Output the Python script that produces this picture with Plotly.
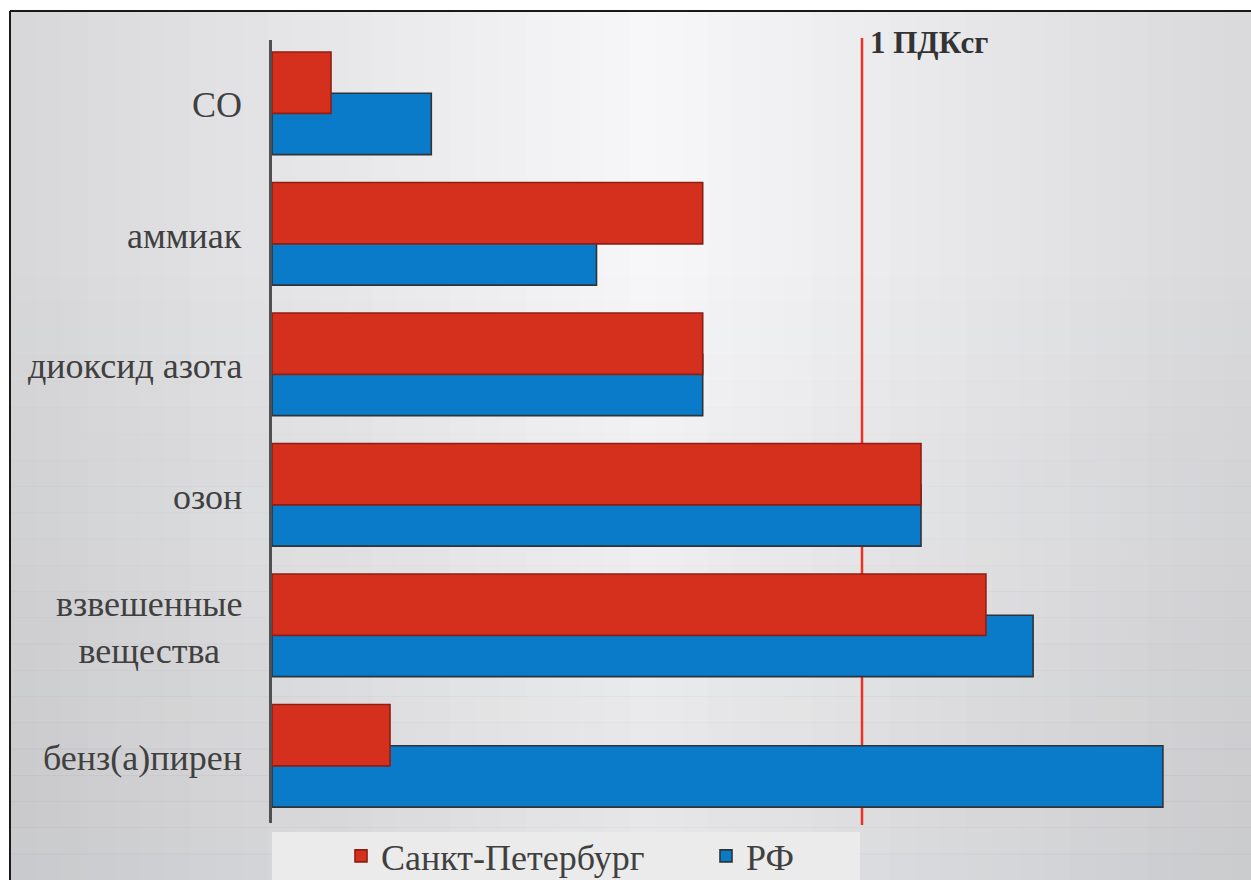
import plotly.graph_objects as go

# ---------------- data ----------------
categories = ["CO", "аммиак", "диоксид азота", "озон", "взвешенные вещества", "бенз(а)пирен"]
category_labels = ["CO", "аммиак", "диоксид азота", "озон", "взвешенные<br>вещества", "бенз(а)пирен"]
spb_values = [0.10, 0.73, 0.73, 1.10, 1.21, 0.20]
rf_values = [0.27, 0.55, 0.73, 1.10, 1.29, 1.51]
series_names = ["Санкт-Петербург", "РФ"]
pdk_level = 1.0
pdk_label = "1 ПДКсг"

# ---------------- layout constants ----------------
W, H = 1251, 880
FONT = "Liberation Serif, Times New Roman, serif"
TXT = "#404040"
RED = "#d5301e"
BLUE = "#0a7bc9"


def px_x(p):
    return p / W


def px_y(p):
    return 1 - p / H


fig = go.Figure()

# blue first so that red bars overlap it
fig.add_trace(go.Bar(
    y=categories, x=rf_values, orientation="h", name=series_names[1],
    width=0.47, offset=-0.092,
    marker=dict(color=BLUE, line=dict(color="#2e3338", width=1.6)),
    legendrank=2, hoverinfo="x+y",
))
fig.add_trace(go.Bar(
    y=categories, x=spb_values, orientation="h", name=series_names[0],
    width=0.47, offset=-0.408,
    marker=dict(color=RED, line=dict(color="#8e1e12", width=1.6)),
    legendrank=1, hoverinfo="x+y",
))

shapes = []
# background gradient: vertical stripes (horizontal gradient)
x0, x1 = 10, W
n = 48
step = (x1 - x0) / n
for i in range(n):
    a = x0 + i * step
    b = a + step + 1
    c = (a + b) / 2
    L = 247 - 31 * abs(c - 650) / 620
    L = int(round(max(205, min(247, L))))
    shapes.append(dict(type="rect", xref="paper", yref="paper",
                       x0=px_x(a), x1=px_x(min(b, W)), y0=0, y1=px_y(11),
                       fillcolor=f"rgb({L},{L},{min(255, L + 2)})",
                       line=dict(width=0), layer="below"))
# vertical darkening towards bottom
m = 24
ys, ye = 250, H
hstep = (ye - ys) / m
for j in range(m):
    a = ys + j * hstep
    b = a + hstep + 0.5
    t = ((a + b) / 2 - ys) / (ye - ys)
    alpha = 0.085 * t
    shapes.append(dict(type="rect", xref="paper", yref="paper",
                       x0=px_x(10), x1=1, y0=px_y(min(b, H)), y1=px_y(a),
                       fillcolor=f"rgba(40,45,55,{alpha:.4f})",
                       line=dict(width=0), layer="below"))
# legend box
shapes.append(dict(type="rect", xref="paper", yref="paper",
                   x0=px_x(272), x1=px_x(860), y0=0, y1=px_y(832),
                   fillcolor="#ebebeb", line=dict(width=0), layer="below"))
# 1 PDK line
shapes.append(dict(type="line", xref="x", yref="paper",
                   x0=pdk_level, x1=pdk_level, y0=px_y(825), y1=px_y(38),
                   line=dict(color="#ec3322", width=2.5), layer="below"))
# frame lines
shapes.append(dict(type="line", xref="paper", yref="paper",
                   x0=px_x(10), x1=1, y0=px_y(11), y1=px_y(11),
                   line=dict(color="#1a1a1a", width=2)))
shapes.append(dict(type="line", xref="paper", yref="paper",
                   x0=px_x(10), x1=px_x(10), y0=0, y1=px_y(11),
                   line=dict(color="#1a1a1a", width=2)))

annotations = []
for cat, lab in zip(categories, category_labels):
    annotations.append(dict(
        x=px_x(244), xref="paper", y=cat, yref="y",
        text=lab, showarrow=False, xanchor="right", yanchor="middle",
        align="center", font=dict(family=FONT, size=36, color=TXT),
    ))
annotations.append(dict(
    x=px_x(868), xref="paper", y=px_y(43), yref="paper",
    text=pdk_label, showarrow=False, xanchor="left", yanchor="middle",
    font=dict(family=FONT, size=31, color="#333333", weight="bold"),
))

fig.update_layout(
    width=W, height=H,
    margin=dict(l=0, r=0, t=0, b=0, autoexpand=False),
    paper_bgcolor="white",
    plot_bgcolor="rgba(0,0,0,0)",
    barmode="overlay",
    showlegend=True,
    legend=dict(orientation="h", x=px_x(341), y=px_y(856),
                xref="container", yref="container",
                xanchor="left", yanchor="middle",
                bgcolor="rgba(0,0,0,0)", traceorder="normal",
                font=dict(family=FONT, size=36, color=TXT),
                entrywidth=320, entrywidthmode="pixels"),
    xaxis=dict(domain=[px_x(272), px_x(1216)], range=[0, 1.6],
               showticklabels=False, showgrid=False, zeroline=False,
               showline=False, ticks=""),
    yaxis=dict(domain=[px_y(823), px_y(40)], type="category",
               categoryorder="array", categoryarray=categories,
               autorange="reversed", showticklabels=False, showgrid=False,
               zeroline=False, showline=True, linecolor="#505050",
               linewidth=3, ticks=""),
    shapes=shapes,
    annotations=annotations,
)

fig.write_html("out.html")
